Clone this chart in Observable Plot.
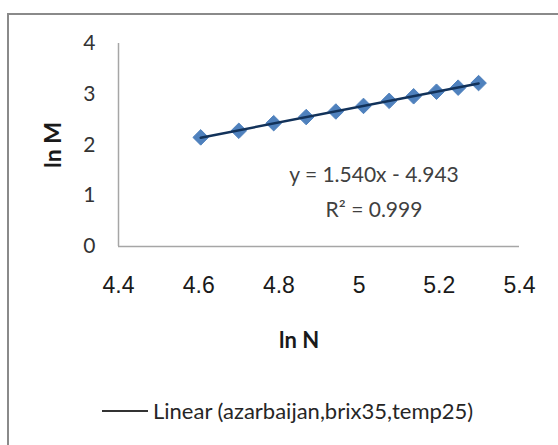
<!DOCTYPE html>
<html>
<head>
<meta charset="utf-8">
<script src="https://cdn.jsdelivr.net/npm/d3@7"></script>
<script src="https://cdn.jsdelivr.net/npm/@observablehq/plot@0.6"></script>
<style>
  html, body { margin: 0; padding: 0; background: #fff; }
  #wrap { position: relative; width: 558px; height: 445px; overflow: hidden; background: #fff; }
  #frame { position: absolute; left: 7px; top: 13px; width: 600px; height: 500px; border: 2px solid #8a8a8a; box-sizing: border-box; }
  #chart { position: absolute; left: 0; top: 0; }
  .eq { position: absolute; font-family: Lato, "Open Sans", sans-serif; font-size: 21px; color: #404040; white-space: nowrap; transform: translate(-50%, -50%); }
  #legend { position: absolute; left: 102px; top: 397px; font-family: Lato, "Open Sans", sans-serif; font-size: 22px; color: #262626; white-space: nowrap; display: flex; align-items: center; }
  #legend .swatch { display: inline-block; width: 46px; height: 0; border-top: 2px solid #333; margin-right: 5px; }
</style>
</head>
<body>
<div id="wrap">
  <div id="frame"></div>
  <div id="chart"></div>
  <div class="eq" id="eq1"></div>
  <div class="eq" id="eq2"></div>
  <div id="legend"><span class="swatch"></span><span id="legendText"></span></div>
</div>
<script>
// Data
const lnN = [4.605, 4.700, 4.787, 4.868, 4.942, 5.011, 5.075, 5.136, 5.193, 5.247, 5.298];
const lnM = [2.15, 2.28, 2.43, 2.55, 2.66, 2.77, 2.87, 2.96, 3.05, 3.13, 3.22];
const xTicks = [4.4, 4.6, 4.8, 5, 5.2, 5.4];
const yTicks = [0, 1, 2, 3, 4];
const equationText = "y = 1.540x - 4.943";
const r2Text = "R\u00B2 = 0.999";
const legendLabel = "Linear (azarbaijan,brix35,temp25)";
const xLabel = "ln N";
const yLabel = "ln M";

const data = lnN.map((x, i) => ({x, y: lnM[i]}));

const chart = Plot.plot({
  width: 558,
  height: 370,
  marginLeft: 118,
  marginRight: 39,
  marginTop: 43,
  marginBottom: 124,
  style: { background: "transparent", overflow: "visible", fontFamily: "'Liberation Sans', Arial, sans-serif" },
  x: { domain: [4.4, 5.4] },
  y: { domain: [0, 4] },
  marks: [
    Plot.ruleY([0], { stroke: "#a6a6a6", strokeWidth: 1.5 }),
    Plot.ruleX([4.4], { stroke: "#a6a6a6", strokeWidth: 1.5 }),
    Plot.axisX({
      ticks: xTicks, tickSize: 0, tickPadding: 30, tickFormat: d => String(d),
      fontSize: 23, fill: "#1a1a1a",
      label: null
    }),
    Plot.axisY({
      ticks: yTicks, tickSize: 0, tickPadding: 23, tickFormat: d => String(d),
      fontSize: 21, fontFamily: "Lato", fill: "#333",
      label: null
    }),
    Plot.text([xLabel], {
      frameAnchor: "bottom", dx: -20, dy: 101, fontSize: 22, fontWeight: "bold",
      fontFamily: "Lato", fill: "#1a1a1a"
    }),
    Plot.text([yLabel], {
      frameAnchor: "left", textAnchor: "middle", dx: -65, rotate: -90, fontSize: 23, fontWeight: "bold",
      fontFamily: "Lato", fill: "#1a1a1a"
    }),
    Plot.dot(data, { x: "x", y: "y", symbol: "diamond2", r: 7, fill: "#4f81bd", stroke: "#4f81bd", strokeWidth: 1 }),
    Plot.linearRegressionY(data, { x: "x", y: "y", ci: 0, stroke: "#12325a", strokeWidth: 2.5 })
  ]
});
document.getElementById("chart").appendChild(chart);

const eq1 = document.getElementById("eq1");
eq1.textContent = equationText;
eq1.style.left = "374px"; eq1.style.top = "173px";
const eq2 = document.getElementById("eq2");
eq2.textContent = r2Text;
eq2.style.left = "374px"; eq2.style.top = "208px";
document.getElementById("legendText").textContent = legendLabel;
</script>
</body>
</html>
